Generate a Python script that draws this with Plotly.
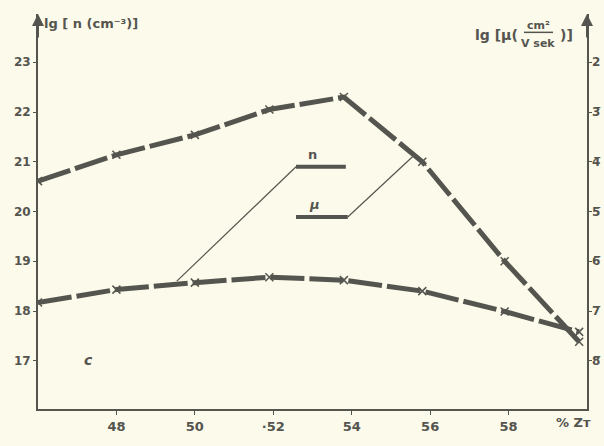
import plotly.graph_objects as go

# Data
zt = [46.0, 48.0, 50.0, 51.9, 53.8, 55.8, 57.9, 59.8]          # % Zт
lg_n = [18.17, 18.43, 18.57, 18.68, 18.62, 18.40, 17.99, 17.58]  # lg n (cm^-3), left axis
lg_mu = [-4.39, -3.86, -3.46, -2.95, -2.70, -4.00, -6.00, -7.62]  # lg mu, right axis

x_ticks = [48, 50, 52, 54, 56, 58]
x_ticklabels = ["48", "50", "·52", "54", "56", "58"]
left_ticks = [17, 18, 19, 20, 21, 22, 23]
right_ticks = [-2, -3, -4, -5, -6, -7, -8]
right_ticklabels = ["2", "3\u0305", "4\u0305", "5\u0305", "6\u0305", "7\u0305", "8\u0305"]

INK = "#555550"
BG = "#fcfaea"
FONT = "DejaVu Sans"

y_lo, y_hi = 16.03, 23.97
offset = 25  # right value = left value - 25

W, H = 604, 446
L, R, T, B = 38, 17, 14, 23
PW, PH = W - L - R, H - T - B


def bold(labels):
    return ["<b>%s</b>" % s for s in labels]


fig = go.Figure()
line_style = dict(color=INK, width=5, dash="34px,5px")
marker_style = dict(symbol="x-thin-open", size=8, line=dict(color=INK, width=1.5), color=INK)

fig.add_trace(go.Scatter(x=zt, y=lg_n, mode="lines+markers", line=line_style,
                         marker=marker_style, yaxis="y", showlegend=False))
fig.add_trace(go.Scatter(x=zt, y=lg_mu, mode="lines+markers", line=line_style,
                         marker=marker_style, yaxis="y2", showlegend=False))

fig.update_layout(
    width=W, height=H, autosize=False,
    margin=dict(l=L, r=R, t=T, b=B),
    paper_bgcolor=BG, plot_bgcolor=BG,
    font=dict(family=FONT, color=INK, size=12),
    xaxis=dict(range=[46, 60], tickvals=x_ticks, ticktext=bold(x_ticklabels),
               showgrid=False, zeroline=False, showline=True, linecolor=INK, linewidth=2,
               ticks="outside", ticklen=4, tickcolor=INK,
               tickfont=dict(family=FONT, size=13, color=INK)),
    yaxis=dict(range=[y_lo, y_hi], tickvals=left_ticks,
               ticktext=bold([str(v) for v in left_ticks]),
               showgrid=False, zeroline=False, showline=True, linecolor=INK, linewidth=2,
               ticks="outside", ticklen=3, tickcolor=INK,
               tickfont=dict(family=FONT, size=12, color=INK)),
    yaxis2=dict(range=[y_lo - offset, y_hi - offset], overlaying="y", side="right",
                tickvals=right_ticks, showticklabels=False,
                showgrid=False, zeroline=False, showline=True, linecolor=INK, linewidth=2,
                ticks="outside", ticklen=3, tickcolor=INK),
)

# right axis tick labels
for v, t in zip(right_ticks, right_ticklabels):
    fig.add_annotation(xref="paper", yref="y2", x=1.0, y=v, xanchor="left", yanchor="middle",
                       xshift=3, text="<b>%s</b>" % t, showarrow=False,
                       font=dict(family=FONT, size=12, color=INK))

# axis arrows
for xp in [0, 1]:
    fig.add_annotation(xref="paper", yref="paper", x=xp, y=1.0, ax=0, ay=25,
                       showarrow=True, arrowhead=2, arrowsize=1.2, arrowwidth=2,
                       arrowcolor=INK, text="")


def px(fx):
    return (fx - L) / PW


# axis titles
fig.add_annotation(xref="paper", yref="paper", x=px(42), y=1.0, xanchor="left", yanchor="middle",
                   text="<b>lg [ n (cm⁻³)]</b>", showarrow=False, yshift=-9,
                   font=dict(family=FONT, size=13, color=INK))
fig.add_annotation(xref="paper", yref="paper", x=px(520), y=1.0, xanchor="right", yanchor="middle",
                   text="<b>lg [μ(</b>", showarrow=False, yshift=-21,
                   font=dict(family=FONT, size=14, color=INK))
fig.add_annotation(xref="paper", yref="paper", x=px(538), y=1.0, xanchor="center", yanchor="middle",
                   text="<b>cm²</b>", showarrow=False, yshift=-11,
                   font=dict(family=FONT, size=11, color=INK))
fig.add_annotation(xref="paper", yref="paper", x=px(538), y=1.0, xanchor="center", yanchor="middle",
                   text="<b>V sek</b>", showarrow=False, yshift=-29,
                   font=dict(family=FONT, size=11, color=INK))
fig.add_shape(type="line", xref="paper", yref="paper", x0=px(524), x1=px(553),
              y0=1 - 19 / PH, y1=1 - 19 / PH, line=dict(color=INK, width=1.5))
fig.add_annotation(xref="paper", yref="paper", x=px(558), y=1.0, xanchor="left", yanchor="middle",
                   text="<b>)]</b>", showarrow=False, yshift=-21,
                   font=dict(family=FONT, size=14, color=INK))

# x-axis unit label
fig.add_annotation(xref="paper", yref="paper", x=px(573), y=0, xanchor="center", yanchor="top",
                   text="<b>% Zт</b>", showarrow=False, yshift=-4,
                   font=dict(family=FONT, size=13, color=INK))

# panel letter
fig.add_annotation(x=47.28, y=17.02, text="<b><i>c</i></b>", showarrow=False,
                   font=dict(family=FONT, size=14, color=INK))

# curve labels with leader lines
fig.add_shape(type="line", x0=52.58, x1=53.85, y0=20.9, y1=20.9, line=dict(color=INK, width=4))
fig.add_shape(type="line", x0=52.58, x1=49.54, y0=20.9, y1=18.6, line=dict(color=INK, width=1.2))
fig.add_annotation(x=53.0, y=21.15, text="<b>n</b>", showarrow=False,
                   font=dict(family=FONT, size=13, color=INK))
fig.add_shape(type="line", x0=52.58, x1=53.9, y0=19.89, y1=19.89, line=dict(color=INK, width=4))
fig.add_shape(type="line", x0=53.9, x1=55.55, y0=19.89, y1=21.1, line=dict(color=INK, width=1.2))
fig.add_annotation(x=53.05, y=20.15, text="<b><i>μ</i></b>", showarrow=False,
                   font=dict(family=FONT, size=13, color=INK))

fig.write_html("out.html", config={"displayModeBar": False, "responsive": False},
               post_script="document.body.style.margin='0';")
